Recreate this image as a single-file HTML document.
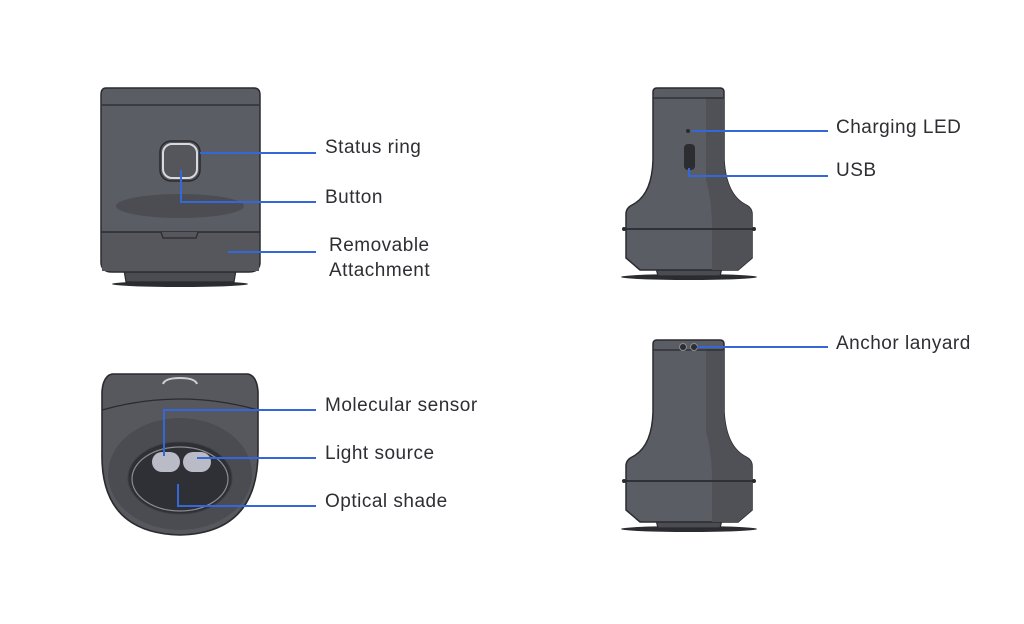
<!DOCTYPE html>
<html><head><meta charset="utf-8"><style>
html,body{margin:0;padding:0;background:#fff;}
svg{display:block}
text{font-family:"Liberation Sans",sans-serif;font-size:19px;letter-spacing:0.5px;fill:#2e2e33;}
</style></head><body>
<svg width="1024" height="624" viewBox="0 0 1024 624" xmlns="http://www.w3.org/2000/svg">
<defs>
<g id="tall">
  <ellipse cx="689" cy="277" rx="68" ry="3" fill="#2b2c30"/>
  <path d="M656 268 L658 276 L720 276 L722 268 Z" fill="#4a4c52" stroke="#2a2b2f" stroke-width="1.2"/>
  <path d="M657 88 Q653 88 653 92 L653 160 Q652 195 632 205 Q626 208 626 214 L626 258 L640 270 L738 270 L752 258 L752 214 Q752 208 746 205 Q726 195 724 160 L724 92 Q724 88 720 88 Z" fill="#5b5d64" stroke="#2a2b2f" stroke-width="1.5"/>
  <path d="M706 97 L724 97 L724 160 Q726 195 746 205 Q752 208 752 214 L752 258 L738 270 L712 270 L712 230 Q712 200 706 180 Z" fill="#4f5157"/>
  <line x1="653" y1="98" x2="724" y2="98" stroke="#2a2b2f" stroke-width="1.3"/>
  <line x1="626" y1="229" x2="752" y2="229" stroke="#2a2b2f" stroke-width="1.8"/>
  <circle cx="624" cy="229" r="2" fill="#2a2b2f"/><circle cx="754" cy="229" r="2" fill="#2a2b2f"/>
</g>
</defs>

<!-- Device 1 -->
<ellipse cx="180" cy="284" rx="68" ry="3" fill="#2b2c30"/>
<path d="M124 270 L126 282 L234 282 L236 270 Z" fill="#4a4c52" stroke="#2a2b2f" stroke-width="1.2"/>
<path d="M106 88 Q101 88 101 95 L101 262 Q101 272 112 272 L249 272 Q260 272 260 262 L260 95 Q260 88 254 88 Z" fill="#5b5d64" stroke="#2a2b2f" stroke-width="1.5"/>
<line x1="102" y1="105" x2="259" y2="105" stroke="#2a2b2f" stroke-width="1.3"/>
<rect x="102" y="232" width="157" height="39" fill="#55575d"/>
<line x1="101" y1="232" x2="260" y2="232" stroke="#2a2b2f" stroke-width="1.5"/>
<path d="M161 232 L163 238 L196 238 L198 232" fill="#55575d" stroke="#2a2b2f" stroke-width="1.2"/>
<ellipse cx="180" cy="206" rx="64" ry="12" fill="#4b4d53"/>
<rect x="160" y="141" width="40" height="40" rx="11" fill="#54565c" stroke="#2a2b2f" stroke-width="1.5"/>
<rect x="163" y="144" width="34" height="34" rx="9" fill="none" stroke="#d8d9de" stroke-width="2"/>

<!-- Device 2 -->
<path d="M112 374 Q103 376 102 392 L102 452 Q100 533 180 535 Q258 533 258 452 L258 392 Q257 376 248 374 Z" fill="#56585e" stroke="#2a2b2f" stroke-width="1.6"/>
<path d="M163 384 Q165 378 180 378 Q195 378 197 384" fill="none" stroke="#cfd0d5" stroke-width="2"/>
<path d="M102 410 Q180 388 258 410" fill="none" stroke="#2a2b2f" stroke-width="1.3"/>
<ellipse cx="180" cy="474" rx="72" ry="56" fill="#4a4c52"/>
<ellipse cx="180" cy="478" rx="52" ry="36" fill="#2f3035" stroke="#3d3f44" stroke-width="1"/>
<ellipse cx="180" cy="479" rx="48" ry="32" fill="none" stroke="#8a8c92" stroke-width="1.2"/>
<rect x="152" y="452" width="28" height="20" rx="10" fill="#b9bbc6"/>
<rect x="183" y="452" width="28" height="20" rx="10" fill="#b9bbc6"/>

<!-- Devices 3,4 -->
<use href="#tall"/>
<use href="#tall" y="252"/>
<circle cx="688" cy="131" r="2" fill="#2a2b2f"/>
<rect x="684" y="144" width="11" height="26" rx="4" fill="#2c2d31"/>
<circle cx="683" cy="347" r="3.5" fill="#2c2d31" stroke="#8a8c92" stroke-width="1"/>
<circle cx="694" cy="347" r="3.5" fill="#2c2d31" stroke="#8a8c92" stroke-width="1"/>

<!-- leader lines -->
<g fill="none" stroke="#3467d8" stroke-width="2">
<path d="M200 153 H316"/>
<path d="M181 170 V202 H316"/>
<path d="M228 252 H316"/>
<path d="M692 131 H828"/>
<path d="M689 168 V176 H828"/>
<path d="M697 347 H828"/>
<path d="M316 410 H164 V456"/>
<path d="M197 458 H316"/>
<path d="M178 484 V506 H316"/>
</g>

<text x="325" y="153">Status ring</text>
<text x="325" y="203">Button</text>
<text x="329" y="251">Removable</text>
<text x="329" y="276">Attachment</text>
<text x="325" y="411">Molecular sensor</text>
<text x="325" y="459">Light source</text>
<text x="325" y="507">Optical shade</text>
<text x="836" y="133">Charging LED</text>
<text x="836" y="176">USB</text>
<text x="836" y="349">Anchor lanyard</text>
</svg>
</body></html>
